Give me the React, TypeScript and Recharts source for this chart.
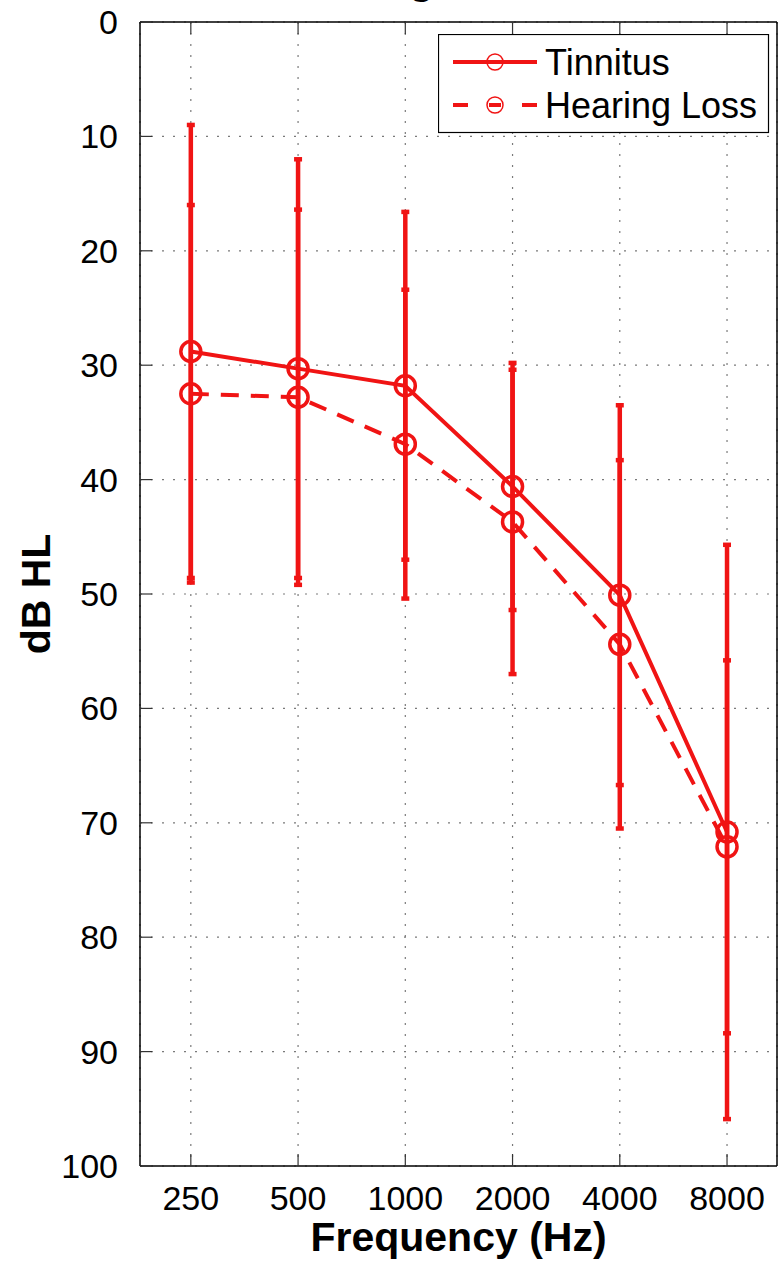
import {
  LineChart,
  Line,
  XAxis,
  YAxis,
  CartesianGrid,
  ErrorBar,
  Legend,
} from "recharts";

const FONT = '"Liberation Sans", Arial, Helvetica, sans-serif';
const RED = "#f01414";

// audiogram values (dB HL, mean and SD per frequency)
const frequencies = [250, 500, 1000, 2000, 4000, 8000];
const tinnitusMean = [28.8, 30.3, 31.8, 40.6, 50.1, 70.8];
const tinnitusSd = [19.8, 18.3, 15.2, 10.8, 16.6, 25.1];
const hearingLossMean = [32.5, 32.8, 36.9, 43.7, 54.4, 72.1];
const hearingLossSd = [16.5, 16.4, 13.5, 13.3, 16.1, 16.3];
const yTicks = [0, 10, 20, 30, 40, 50, 60, 70, 80, 90, 100];

const data = frequencies.map((freq, i) => ({
  freq,
  tinnitus: tinnitusMean[i],
  tinnitusSd: tinnitusSd[i],
  hearingLoss: hearingLossMean[i],
  hearingLossSd: hearingLossSd[i],
}));

const tickStyle = { fontSize: 34, fill: "#000", fontFamily: FONT };
const noTick = () => <g />;

const LegendBox = () => (
  <svg width={332} height={100} style={{ display: "block" }}>
    <rect x={0.5} y={0.5} width={330} height={98} fill="#fff" stroke="#000" strokeWidth={1.2} />
    <line x1={15} x2={99} y1={28} y2={28} stroke={RED} strokeWidth={4} />
    <circle cx={57} cy={28} r={8} fill="#fff" stroke={RED} strokeWidth={1.5} />
    <line x1={57 - 8} x2={57 + 8} y1={28} y2={28} stroke={RED} strokeWidth={4} />
    <text x={107} y={41} fontSize={36} fontFamily={FONT} fill="#000">
      Tinnitus
    </text>
    <line
      x1={15}
      x2={99}
      y1={71}
      y2={71}
      stroke={RED}
      strokeWidth={4}
      strokeDasharray="15 21 12 21 15"
    />
    <circle cx={57} cy={71} r={8} fill="none" stroke={RED} strokeWidth={1.5} />
    <text x={107} y={84} fontSize={36} fontFamily={FONT} fill="#000">
      Hearing Loss
    </text>
  </svg>
);

const xLabel = (props: any) => {
  const vb = props.viewBox;
  return (
    <text
      x={vb.x + vb.width / 2}
      y={vb.y + 85}
      textAnchor="middle"
      fontSize={41}
      fontWeight="bold"
      fontFamily={FONT}
      fill="#000"
    >
      Frequency (Hz)
    </text>
  );
};

const yLabel = (props: any) => {
  const vb = props.viewBox;
  const x = 50;
  const y = vb.y + vb.height / 2;
  return (
    <text
      x={x}
      y={y}
      transform={`rotate(-90, ${x}, ${y})`}
      textAnchor="middle"
      fontSize={41}
      fontWeight="bold"
      fontFamily={FONT}
      fill="#000"
    >
      dB HL
    </text>
  );
};

export default function App() {
  return (
    <div style={{ position: "absolute", left: 0, top: 0, width: 778, height: 1263, overflow: "hidden" }}>
      <div
        style={{
          position: "absolute",
          left: 259,
          top: -40,
          width: 400,
          textAlign: "center",
          fontFamily: FONT,
          fontWeight: "bold",
          fontSize: 41,
          lineHeight: "41px",
        }}
      >
        Right Ear
      </div>
      <LineChart
        width={778}
        height={1263}
        data={data}
        margin={{ top: 22, right: 1, bottom: 0, left: 0 }}
      >
        <CartesianGrid stroke="#7a7a7a" strokeWidth={1.2} strokeDasharray="2 9" />
        <XAxis
          dataKey="freq"
          type="number"
          scale="log"
          domain={[180, 11050]}
          allowDataOverflow
          ticks={frequencies}
          interval={0}
          height={97}
          tickSize={-12}
          tickMargin={32}
          tick={tickStyle}
          axisLine={{ stroke: "#000", strokeWidth: 1.5 }}
          tickLine={{ stroke: "#333", strokeWidth: 1.2 }}
          label={xLabel}
        />
        <XAxis
          xAxisId="top"
          dataKey="freq"
          orientation="top"
          mirror
          type="number"
          scale="log"
          domain={[180, 11050]}
          allowDataOverflow
          ticks={frequencies}
          interval={0}
          tickSize={12}
          tick={noTick}
          axisLine={{ stroke: "#000", strokeWidth: 1.5 }}
          tickLine={{ stroke: "#333", strokeWidth: 1.2 }}
        />
        <YAxis
          reversed
          type="number"
          domain={[0, 100]}
          ticks={yTicks}
          interval={0}
          width={140}
          tickSize={-12}
          tickMargin={34}
          tick={tickStyle}
          axisLine={{ stroke: "#000", strokeWidth: 1.5 }}
          tickLine={{ stroke: "#333", strokeWidth: 1.2 }}
          label={yLabel}
        />
        <YAxis
          yAxisId="right"
          orientation="right"
          mirror
          reversed
          type="number"
          domain={[0, 100]}
          ticks={yTicks}
          interval={0}
          tickSize={12}
          tick={noTick}
          axisLine={{ stroke: "#000", strokeWidth: 1.5 }}
          tickLine={{ stroke: "#333", strokeWidth: 1.2 }}
        />
        <Legend
          layout="vertical"
          align="center"
          verticalAlign="middle"
          wrapperStyle={{ top: 34, left: 438, width: 332, height: 100 }}
          content={() => <LegendBox />}
        />
        <Line
          dataKey="tinnitus"
          name="Tinnitus"
          stroke={RED}
          strokeWidth={4}
          dot={{ r: 10, stroke: RED, strokeWidth: 3.5, fill: "none" }}
          activeDot={false}
          isAnimationActive={false}
        >
          <ErrorBar
            dataKey="tinnitusSd"
            direction="y"
            width={4}
            stroke={RED}
            strokeWidth={4.5}
            isAnimationActive={false}
          />
        </Line>
        <Line
          dataKey="hearingLoss"
          name="Hearing Loss"
          stroke={RED}
          strokeWidth={4}
          strokeDasharray="18 12"
          dot={{ r: 10, stroke: RED, strokeWidth: 3.5, fill: "none", strokeDasharray: "none" }}
          activeDot={false}
          isAnimationActive={false}
        >
          <ErrorBar
            dataKey="hearingLossSd"
            direction="y"
            width={4}
            stroke={RED}
            strokeWidth={4.5}
            isAnimationActive={false}
          />
        </Line>
      </LineChart>
    </div>
  );
}
